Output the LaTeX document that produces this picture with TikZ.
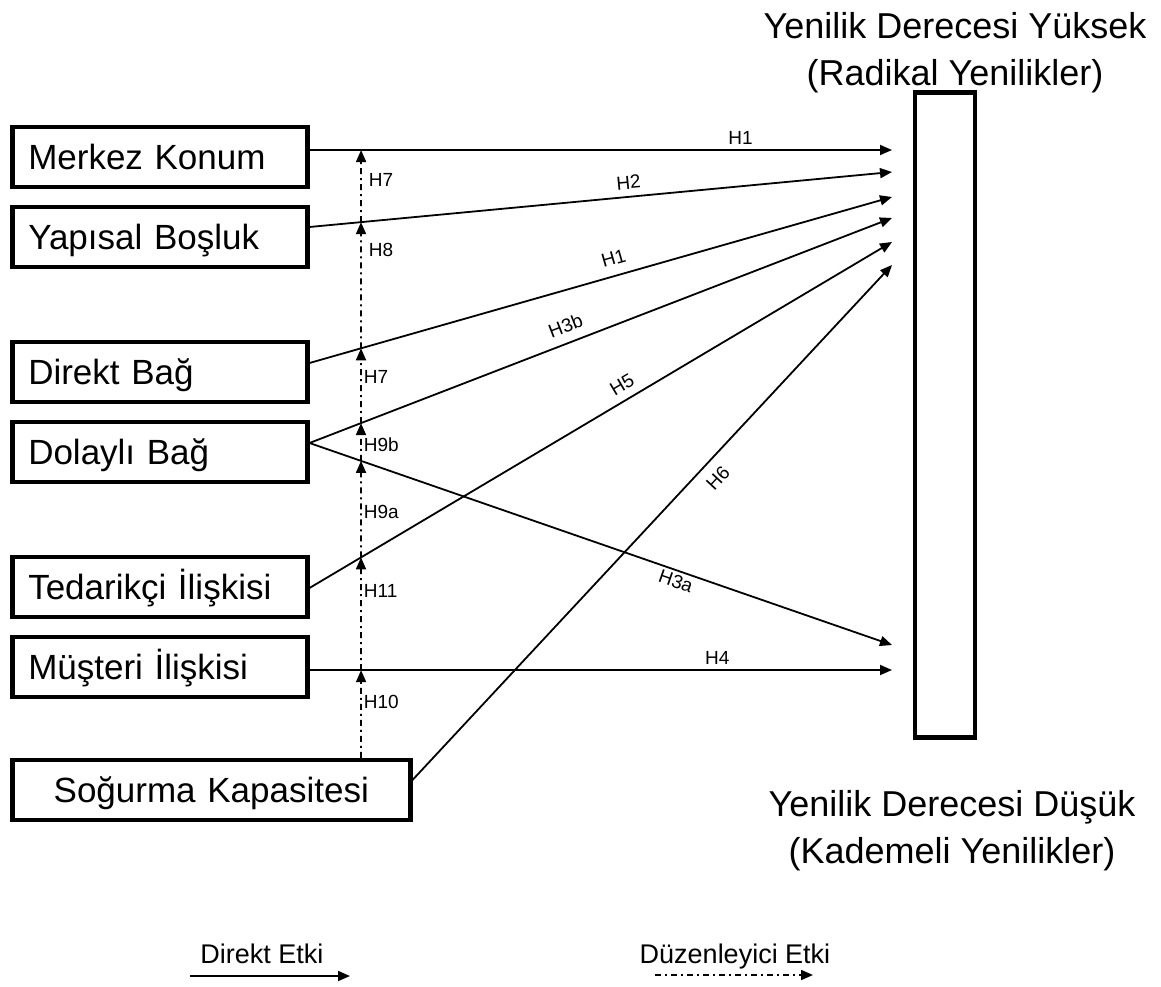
\documentclass[tikz,border=0pt]{standalone}
\usepackage{fontspec}
\setmainfont{Liberation Sans}
\usetikzlibrary{arrows.meta,positioning,calc}
\tikzset{
  var/.style={draw,line width=4.5pt,anchor=west,minimum width=295pt,minimum height=60pt,text width=263pt,inner xsep=16pt,inner ysep=3pt,align=left,text height=31pt,text depth=6pt,font=\fontsize{35}{42}\selectfont},
  degreebox/.style={draw,line width=4.5pt,minimum width=60pt,minimum height=645pt},
  degreelbl/.style={align=center,font=\fontsize{36}{47}\selectfont},
  effect/.style={line width=1.8pt,-{Triangle[length=12pt,width=10pt]}},
  moderate/.style={effect,dash pattern=on 6pt off 4pt on 2pt off 4pt},
  hlabel/.style={font=\fontsize{19}{22}\selectfont,inner sep=2pt},
  legend/.style={font=\fontsize{27}{30}\selectfont,inner sep=0pt,anchor=base},
}
\begin{document}
\begin{tikzpicture}[x=1pt,y=-1pt]
  \useasboundingbox (0,0) rectangle (1161,987);
  % network variables
  \node[var] (merkez) at (10,157) {Merkez Konum};
  \node[var] (yapisal) at (10,237) {Yapısal Boşluk};
  \node[var] (direkt) at (10,372) {Direkt Bağ};
  \node[var] (dolayli) at (10,452) {Dolaylı Bağ};
  \node[var] (tedarik) at (10,587) {Tedarikçi İlişkisi};
  \node[var] (musteri) at (10,667) {Müşteri İlişkisi};
  \node[var,minimum width=398pt,text width=366pt,align=center] (sogurma) at (10,790) {Soğurma Kapasitesi};
  % degree of innovation
  \node[degreebox] (degree) at (945,415) {};
  \node[degreelbl] (high) at (955,53) {Yenilik Derecesi Yüksek\\(Radikal Yenilikler)};
  \node[degreelbl] (low) at (952,831) {Yenilik Derecesi Düşük\\(Kademeli Yenilikler)};
  % start and end points
  \coordinate (s1) at ([yshift=7pt]merkez.east);
  \coordinate (s2) at ([yshift=10pt]yapisal.east);
  \coordinate (s3) at ([yshift=9pt]direkt.east);
  \coordinate (s4) at ([yshift=9pt]dolayli.east);
  \coordinate (s5) at ([yshift=-1pt]tedarik.east);
  \coordinate (s6) at ([yshift=-3pt]musteri.east);
  \coordinate (s7) at ([yshift=10pt]sogurma.east);
  \foreach \i/\y in {1/150,2/172,3/197,4/218,5/242,6/265,7/645,8/670}
    \coordinate (t\i) at (892,\y);
  % direct effects
  \draw[effect] (s1) -- node[hlabel,above=3pt,pos=.74] {H1} (t1);
  \draw[effect] (s2) -- node[hlabel,above=5pt,sloped,pos=.55] {H2} (t2);
  \draw[effect] (s3) -- node[hlabel,above=8pt,sloped,pos=.53] {H1} (t3);
  \draw[effect] (s4) -- node[hlabel,above=7pt,sloped,pos=.45] {H3b} (t4);
  \draw[effect] (s4) -- node[hlabel,below=1pt,sloped,pos=.635] {H3a} (t7);
  \draw[effect] (s5) -- node[hlabel,above=6pt,sloped,pos=.55] {H5} (t5);
  \draw[effect] (s7) -- node[hlabel,below=8pt,sloped,pos=.61] {H6} (t6);
  \draw[effect] (s6) -- node[hlabel,above=3pt,pos=.70] {H4} (t8);
  % moderating effects
  \coordinate (mx) at (361,0);
  \coordinate (m0) at (sogurma.north -| mx);
  \coordinate (m1) at (intersection of mx--m0 and s6--t8);
  \coordinate (m2) at (intersection of mx--m0 and s5--t5);
  \coordinate (m3) at (intersection of mx--m0 and s4--t7);
  \coordinate (m4) at (intersection of mx--m0 and s4--t4);
  \coordinate (m5) at (intersection of mx--m0 and s3--t3);
  \coordinate (m6) at (intersection of mx--m0 and s2--t2);
  \coordinate (m7) at (intersection of mx--m0 and s1--t1);
  \draw[moderate] (m0) -- node[hlabel,anchor=west,pos=.64] {H10} (m1);
  \draw[moderate] (m1) -- node[hlabel,anchor=west,pos=.70] {H11} (m2);
  \draw[moderate] (m2) -- node[hlabel,anchor=west,pos=.47] {H9a} (m3);
  \draw[moderate] (m3) -- node[hlabel,anchor=west,pos=.43] {H9b} (m4);
  \draw[moderate] (m4) -- node[hlabel,anchor=west,pos=.62] {H7} (m5);
  \draw[moderate] (m5) -- node[hlabel,anchor=west,xshift=5pt,pos=.78] {H8} (m6);
  \draw[moderate] (m6) -- node[hlabel,anchor=west,xshift=5pt,pos=.58] {H7} (m7);
  % legend
  \node[legend] (directlbl) at (262,963) {Direkt Etki};
  \node[legend] (modlbl) at (735,963) {Düzenleyici Etki};
  \coordinate (d1) at (190,976);
  \coordinate (d2) at (350,976);
  \coordinate (e1) at (655,975);
  \coordinate (e2) at (813,975);
  \draw[effect] (d1) -- (d2);
  \draw[moderate] (e1) -- (e2);
\end{tikzpicture}
\end{document}
